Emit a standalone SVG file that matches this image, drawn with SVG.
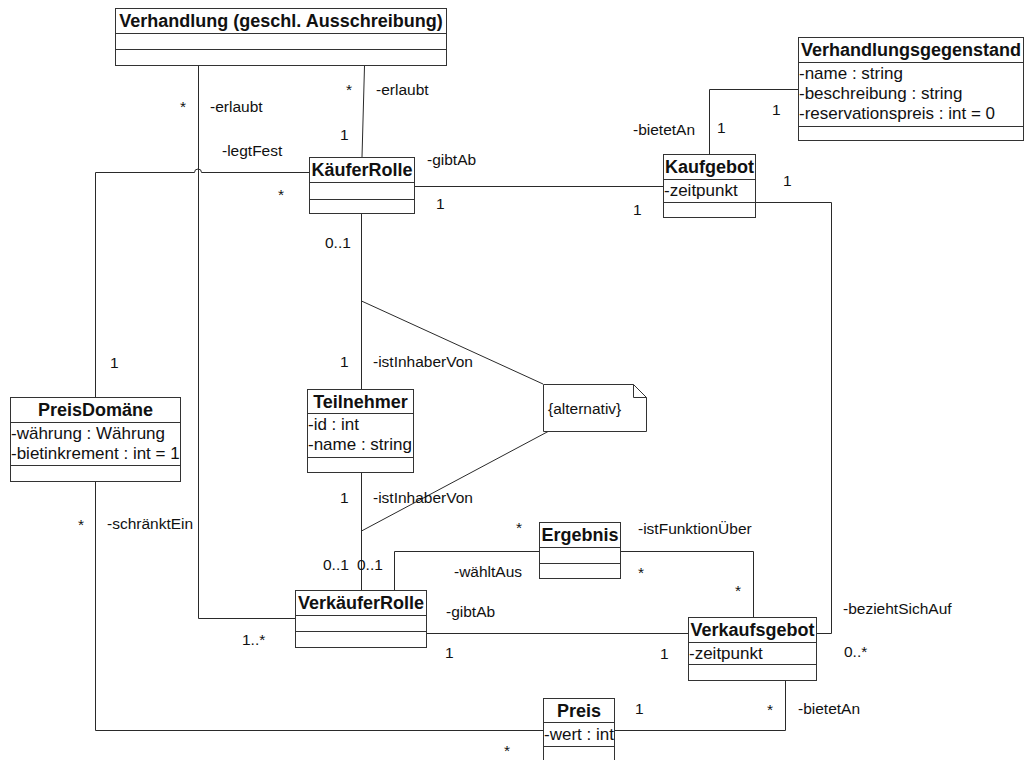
<svg xmlns="http://www.w3.org/2000/svg" width="1026" height="760" viewBox="0 0 1026 760">
  <style>
    .box { fill: #ffffff; stroke: #333333; stroke-width: 1; }
    .sep { stroke: #333333; stroke-width: 1; fill: none; }
    .conn { fill: none; stroke: #2a2a2a; stroke-width: 1; }
    .title { font-family: "Liberation Sans", Arial, sans-serif; font-weight: bold; font-size: 18px; fill: #111111; text-anchor: middle; }
    .attr { font-family: "Liberation Sans", Arial, sans-serif; font-size: 17px; fill: #111111; }
    .lbl { font-family: "Liberation Sans", Arial, sans-serif; font-size: 15.5px; fill: #111111; }
  </style>
  <rect width="1026" height="760" fill="#ffffff"/>

  <!-- associations -->
  <g id="connectors">
    <path class="conn" d="M198.5,66 V618.5 H295"/>
    <path class="conn" d="M364.5,66 L362,157"/>
    <path class="conn" d="M95.5,397 V172.5 H194.5 A3.5 3.5 0 0 1 201.5 172.5 H309"/>
    <path class="conn" d="M95.5,482 V730.5 H543"/>
    <path class="conn" d="M414,186.5 H663"/>
    <path class="conn" d="M709.5,154 V89.5 H798"/>
    <path class="conn" d="M756,202.5 H831.5 V633.5 H817"/>
    <path class="conn" d="M361.5,214 V389"/>
    <path class="conn" d="M361.5,473 V590"/>
    <path class="conn" d="M361.5,301 L543,384"/>
    <path class="conn" d="M549,431 L361.5,531"/>
    <path class="conn" d="M394.5,590 V551.5 H539"/>
    <path class="conn" d="M621,551.5 H753.5 V617"/>
    <path class="conn" d="M427,633.5 H688"/>
    <path class="conn" d="M785.5,681 V730.5 H615"/>

    <!-- role names and multiplicities -->
    <text class="lbl" x="180" y="112">*</text>
    <text class="lbl" x="210" y="112">-erlaubt</text>
    <text class="lbl" x="346" y="95">*</text>
    <text class="lbl" x="376" y="95">-erlaubt</text>
    <text class="lbl" x="340" y="140">1</text>
    <text class="lbl" x="222" y="156">-legtFest</text>
    <text class="lbl" x="278" y="200">*</text>
    <text class="lbl" x="427" y="165">-gibtAb</text>
    <text class="lbl" x="436" y="209">1</text>
    <text class="lbl" x="633" y="215">1</text>
    <text class="lbl" x="633" y="135">-bietetAn</text>
    <text class="lbl" x="717" y="133">1</text>
    <text class="lbl" x="772" y="115">1</text>
    <text class="lbl" x="783" y="186">1</text>
    <text class="lbl" x="325" y="248">0..1</text>
    <text class="lbl" x="340" y="367">1</text>
    <text class="lbl" x="373" y="367">-istInhaberVon</text>
    <text class="lbl" x="110" y="368">1</text>
    <text class="lbl" x="340" y="503">1</text>
    <text class="lbl" x="373" y="503">-istInhaberVon</text>
    <text class="lbl" x="78" y="530">*</text>
    <text class="lbl" x="107" y="529">-schränktEin</text>
    <text class="lbl" x="516" y="533">*</text>
    <text class="lbl" x="638" y="534">-istFunktionÜber</text>
    <text class="lbl" x="323" y="570">0..1</text>
    <text class="lbl" x="357" y="570">0..1</text>
    <text class="lbl" x="454" y="577">-wähltAus</text>
    <text class="lbl" x="638" y="578">*</text>
    <text class="lbl" x="735" y="596">*</text>
    <text class="lbl" x="843" y="614">-beziehtSichAuf</text>
    <text class="lbl" x="446" y="617">-gibtAb</text>
    <text class="lbl" x="242" y="645">1..*</text>
    <text class="lbl" x="445" y="658">1</text>
    <text class="lbl" x="660" y="659">1</text>
    <text class="lbl" x="844" y="657">0..*</text>
    <text class="lbl" x="635" y="714">1</text>
    <text class="lbl" x="767" y="715">*</text>
    <text class="lbl" x="798" y="714">-bietetAn</text>
    <text class="lbl" x="504" y="756">*</text>
  </g>

  <g id="verhandlung">
    <rect class="box" x="115.5" y="8.5" width="331" height="57"/>
    <path class="sep" d="M115.5,33.5 H446.5 M115.5,49.5 H446.5"/>
    <text class="title" x="281" y="27">Verhandlung (geschl. Ausschreibung)</text>
  </g>

  <g id="kaeuferrolle">
    <rect class="box" x="309.5" y="157.5" width="105" height="56"/>
    <path class="sep" d="M309.5,182.5 H414.5 M309.5,199.5 H414.5"/>
    <text class="title" x="362" y="176">KäuferRolle</text>
  </g>

  <g id="verhandlungsgegenstand">
    <rect class="box" x="798.5" y="37.5" width="225" height="103"/>
    <path class="sep" d="M798.5,62.5 H1023.5 M798.5,126.5 H1023.5"/>
    <text class="title" x="911" y="56">Verhandlungsgegenstand</text>
    <text class="attr" x="799" y="79">-name : string</text>
    <text class="attr" x="799" y="99">-beschreibung : string</text>
    <text class="attr" x="799" y="119">-reservationspreis : int = 0</text>
  </g>

  <g id="kaufgebot">
    <rect class="box" x="663.5" y="154.5" width="92" height="63"/>
    <path class="sep" d="M663.5,179.5 H755.5 M663.5,202.5 H755.5"/>
    <text class="title" x="709.5" y="173">Kaufgebot</text>
    <text class="attr" x="664" y="196">-zeitpunkt</text>
  </g>

  <g id="teilnehmer">
    <rect class="box" x="307.5" y="389.5" width="106" height="83"/>
    <path class="sep" d="M307.5,413.5 H413.5 M307.5,457.5 H413.5"/>
    <text class="title" x="360.5" y="408">Teilnehmer</text>
    <text class="attr" x="308" y="430">-id : int</text>
    <text class="attr" x="308" y="450">-name : string</text>
  </g>

  <g id="note-alternativ">
    <path class="box" d="M543.5,384.5 H633.5 L646.5,397.5 V431.5 H543.5 Z"/>
    <path class="sep" d="M633.5,384.5 V397.5 H646.5"/>
    <text class="lbl" x="548" y="414">{alternativ}</text>
  </g>

  <g id="preisdomaene">
    <rect class="box" x="10.5" y="397.5" width="170" height="84"/>
    <path class="sep" d="M10.5,422.5 H180.5 M10.5,465.5 H180.5"/>
    <text class="title" x="95.5" y="416">PreisDomäne</text>
    <text class="attr" x="11" y="439">-währung : Währung</text>
    <text class="attr" x="11" y="459">-bietinkrement : int = 1</text>
  </g>

  <g id="ergebnis">
    <rect class="box" x="539.5" y="522.5" width="81" height="56"/>
    <path class="sep" d="M539.5,547.5 H620.5 M539.5,563.5 H620.5"/>
    <text class="title" x="580" y="541">Ergebnis</text>
  </g>

  <g id="verkaeuferrolle">
    <rect class="box" x="295.5" y="590.5" width="131" height="57"/>
    <path class="sep" d="M295.5,615.5 H426.5 M295.5,631.5 H426.5"/>
    <text class="title" x="361" y="609">VerkäuferRolle</text>
  </g>

  <g id="verkaufsgebot">
    <rect class="box" x="688.5" y="617.5" width="128" height="63"/>
    <path class="sep" d="M688.5,642.5 H816.5 M688.5,664.5 H816.5"/>
    <text class="title" x="752.5" y="636">Verkaufsgebot</text>
    <text class="attr" x="689" y="659">-zeitpunkt</text>
  </g>

  <g id="preis">
    <rect class="box" x="543.5" y="698.5" width="71" height="70"/>
    <path class="sep" d="M543.5,722.5 H614.5 M543.5,746.5 H614.5"/>
    <text class="title" x="579" y="717">Preis</text>
    <text class="attr" x="544" y="740">-wert : int</text>
  </g>
</svg>
